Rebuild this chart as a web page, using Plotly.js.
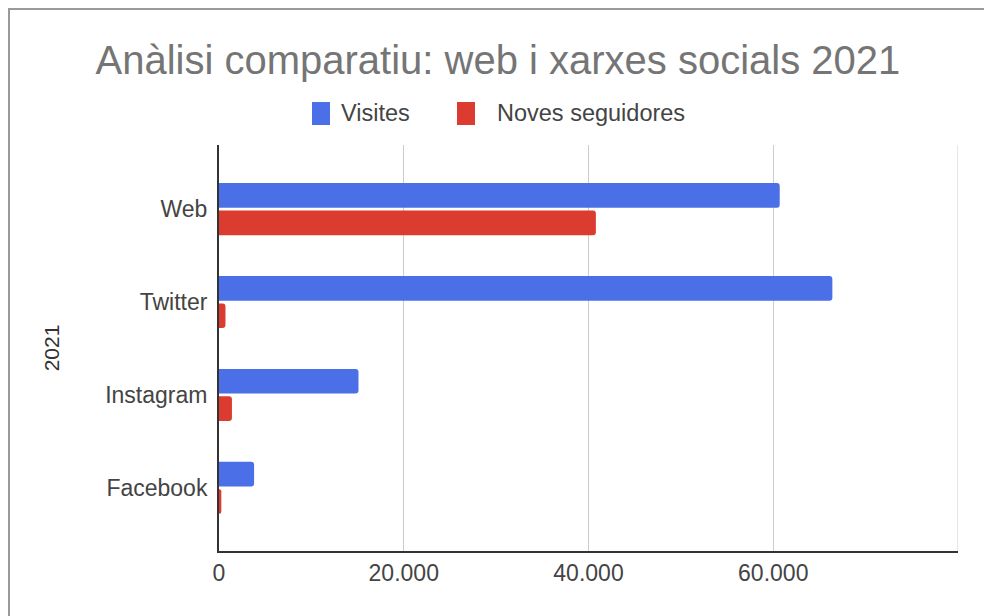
<!DOCTYPE html>
<html>
<head>
<meta charset="utf-8">
<script src="https://cdn.plot.ly/plotly-3.0.1.min.js"></script>
<style>
  html, body { margin: 0; padding: 0; background: #fff; }
  #wrap { position: relative; width: 984px; height: 616px; overflow: hidden; }
  #chart { position: absolute; left: 0; top: 0; width: 984px; height: 616px; }
  #frame { position: absolute; left: 8px; top: 8px; width: 990px; height: 620px;
           border-left: 2px solid #9a9a9a; border-top: 2px solid #9a9a9a; pointer-events: none; }
</style>
</head>
<body>
<div id="wrap">
  <div id="chart"></div>
  <div id="frame"></div>
</div>
<script>
const categories = ["Web", "Twitter", "Instagram", "Facebook"];
const visites = [60700, 66400, 15100, 3800];
const novesSeguidores = [40800, 700, 1400, 250];
const seriesNames = ["Visites", "Noves seguidores"];
const seriesColors = ["#4a6fe6", "#dc3b30"];
const xTickVals = [0, 20000, 40000, 60000, 80000];
const xTickText = ["0", "20.000", "40.000", "60.000", ""];
const chartTitle = "Anàlisi comparatiu: web i xarxes socials 2021";
const yTitle = "2021";

const FONT = "Liberation Sans, Arial, sans-serif";

// plot area in pixels (for placing the hand-built legend)
const PL = 219, PR = 958, PT = 145, PB = 551;
const px = v => (v - PL) / (PR - PL);
const py = v => (PB - v) / (PB - PT);

const traces = [
  {
    type: "bar", orientation: "h", name: seriesNames[0],
    y: categories, x: visites,
    marker: { color: seriesColors[0], cornerradius: 3 }
  },
  {
    type: "bar", orientation: "h", name: seriesNames[1],
    y: categories, x: novesSeguidores,
    marker: { color: seriesColors[1], cornerradius: 3 }
  }
];

// legend drawn as shapes + annotations so the swatches match the reference size
const legendItems = [
  { sw0: 312, sw1: 330, tx: 339 },
  { sw0: 457, sw1: 475, tx: 495 }
];
const legendShapes = legendItems.map((it, i) => ({
  type: "rect", xref: "paper", yref: "paper",
  x0: px(it.sw0), x1: px(it.sw1), y0: py(125), y1: py(102),
  fillcolor: seriesColors[i], line: { width: 0 }
}));
const legendAnnotations = legendItems.map((it, i) => ({
  xref: "paper", yref: "paper", x: px(it.tx), y: py(113),
  xanchor: "left", yanchor: "middle", showarrow: false,
  text: seriesNames[i],
  font: { family: FONT, size: 23.5, color: "#444444" }
}));

const layout = {
  width: 984, height: 616,
  margin: { l: 219, r: 26, t: 145, b: 65, pad: 0 },
  paper_bgcolor: "#ffffff",
  plot_bgcolor: "#ffffff",
  font: { family: FONT, color: "#444444", size: 23 },
  title: {
    text: chartTitle,
    font: { family: FONT, size: 40, color: "#757575" },
    x: 0.506, xanchor: "center", y: 0.902, yanchor: "middle"
  },
  showlegend: false,
  barmode: "group",
  bargap: 0.41,
  bargroupgap: 0.1,
  xaxis: {
    range: [0, 80000],
    tickvals: xTickVals, ticktext: xTickText,
    showgrid: true, gridcolor: "#cccccc", gridwidth: 1,
    zeroline: false,
    showline: true, linecolor: "#333333", linewidth: 2,
    ticks: "", ticklen: 0,
    tickfont: { family: FONT, size: 23, color: "#444444" },
    fixedrange: true
  },
  yaxis: {
    type: "category",
    categoryorder: "array", categoryarray: categories,
    range: [3.68, -0.69],
    showgrid: false, zeroline: false,
    showline: true, linecolor: "#333333", linewidth: 2,
    ticks: "outside", ticklen: 5, tickcolor: "rgba(0,0,0,0)",
    tickfont: { family: FONT, size: 23, color: "#444444" },
    title: { text: yTitle, font: { family: FONT, size: 21, color: "#333333" }, standoff: 40 },
    fixedrange: true
  },
  shapes: [
    { type: "line", xref: "x", yref: "paper", x0: 80000, x1: 80000, y0: 0, y1: 1,
      line: { color: "#cccccc", width: 1 } }
  ].concat(legendShapes),
  annotations: legendAnnotations
};

Plotly.newPlot("chart", traces, layout, { displayModeBar: false, staticPlot: true });
</script>
</body>
</html>
